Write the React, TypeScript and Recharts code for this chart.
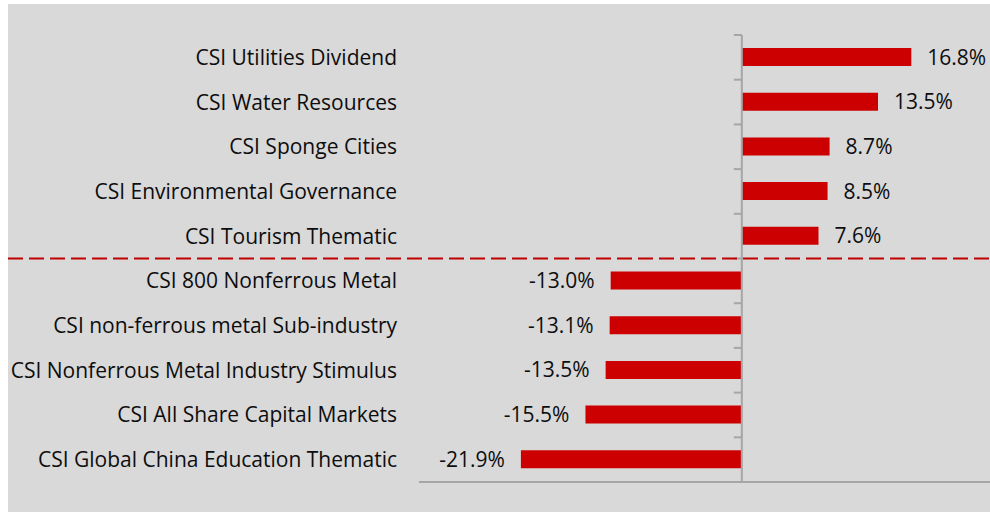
import React from 'react';
import { BarChart, Bar, XAxis, YAxis, ReferenceLine, LabelList } from 'recharts';

const categories = [
  'CSI Utilities Dividend',
  'CSI Water Resources',
  'CSI Sponge Cities',
  'CSI Environmental Governance',
  'CSI Tourism Thematic',
  'CSI 800 Nonferrous Metal',
  'CSI non-ferrous metal Sub-industry',
  'CSI Nonferrous Metal Industry Stimulus',
  'CSI All Share Capital Markets',
  'CSI Global China Education Thematic',
];
const returns = [16.8, 13.5, 8.7, 8.5, 7.6, -13.0, -13.1, -13.5, -15.5, -21.9];
const separatorAfter = 'CSI Tourism Thematic';
const xDomain = [-32, 24.6];

const data = categories.map((name, i) => ({ name, value: returns[i] }));

const FONT = '"Open Sans", "Noto Sans", sans-serif';
const TEXT = '#0d0d0d';
const AXIS = '#a6a6a6';
const RED = '#cc0000';
const FS = 21;

const renderValueLabel = (props: any) => {
  const { x, y, width, height, value } = props;
  const nx = Number(x);
  const nw = Number(width);
  const left = Math.min(nx, nx + nw);
  const right = Math.max(nx, nx + nw);
  const positive = Number(value) >= 0;
  return (
    <text
      x={positive ? right + 16 : left - 16}
      y={Number(y) + Number(height) / 2}
      dy="0.36em"
      textAnchor={positive ? 'start' : 'end'}
      fill={TEXT}
      fontSize={FS}
      fontFamily={FONT}
    >
      {Number(value).toFixed(1)}%
    </text>
  );
};

const TickMark = (p: any) => (
  <line x1={p.x1 - 8} y1={p.y1} x2={p.x1} y2={p.y1} stroke={AXIS} strokeWidth={2} />
);

const Separator = (p: any) => (
  <line x1={0} y1={p.y1} x2={p.x2} y2={p.y2} stroke="#c00000" strokeWidth={2} strokeDasharray="15 6" />
);

const tickMarks = [
  ...categories.map((c) => ({ cat: c, pos: 'start' as const })),
  { cat: categories[categories.length - 1], pos: 'end' as const },
];

export default function App() {
  return (
    <div style={{ position: 'absolute', left: 8, top: 4, width: 982, height: 508, background: '#d9d9d9' }}>
      <BarChart
        width={982}
        height={508}
        data={data}
        layout="vertical"
        margin={{ top: 31, right: 0, bottom: 0, left: 0 }}
      >
        <XAxis
          type="number"
          domain={xDomain}
          allowDataOverflow
          tick={false}
          tickLine={false}
          axisLine={{ stroke: AXIS, strokeWidth: 2 }}
          height={30}
        />
        <YAxis
          type="category"
          dataKey="name"
          width={411}
          axisLine={false}
          tickLine={false}
          tickSize={8}
          tickMargin={14}
          interval={0}
          tick={{ fill: TEXT, fontSize: FS, fontFamily: FONT }}
        />
        <Bar dataKey="value" fill={RED} barSize={18} isAnimationActive={false}>
          <LabelList dataKey="value" content={renderValueLabel} />
        </Bar>
        <ReferenceLine x={0} stroke={AXIS} strokeWidth={2} />
        {tickMarks.map((t, i) => (
          <ReferenceLine
            key={i}
            segment={[{ x: 0, y: t.cat }, { x: 0, y: t.cat }]}
            position={t.pos}
            shape={TickMark}
          />
        ))}
        <ReferenceLine y={separatorAfter} position="end" shape={Separator} />
      </BarChart>
    </div>
  );
}
